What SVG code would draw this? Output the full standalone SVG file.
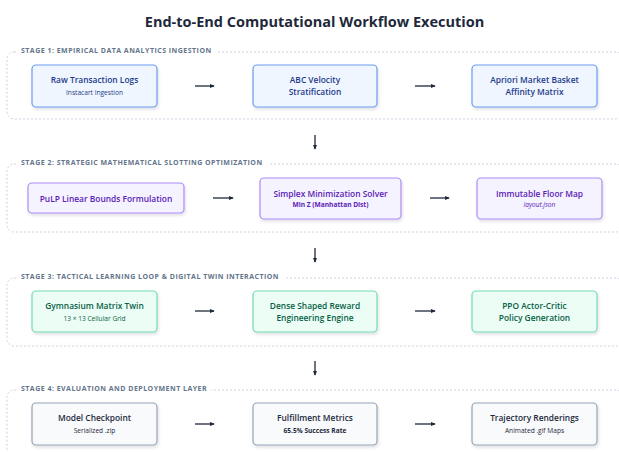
<svg xmlns="http://www.w3.org/2000/svg" width="619" height="452" viewBox="0 0 619 452">
  <defs>
    <filter id="shadow" x="-10%" y="-20%" width="130%" height="160%">
      <feDropShadow dx="1" dy="2" stdDeviation="1.5" flood-color="#0f172a" flood-opacity="0.13"/>
    </filter>
    <marker id="head" viewBox="0 0 6 6" refX="5" refY="3" markerWidth="5" markerHeight="5" markerUnits="userSpaceOnUse" orient="auto">
      <path d="M0,0.5 L6,3 L0,5.5 Z" fill="#1e293b"/>
    </marker>
    <style>
      text { font-family: "Open Sans", "Noto Sans", "DejaVu Sans", sans-serif; }
      .title { font-size: 14.5px; font-weight: 700; fill: #1e293b; }
      .stage { fill: #ffffff; stroke: #cbd5e1; stroke-width: 1; stroke-dasharray: 2 2; }
      .stage-label { font-size: 7px; font-weight: 700; fill: #64748b; letter-spacing: 0.48px; }
      .label-bg { fill: #ffffff; }
      .node rect { stroke-width: 1.2; filter: url(#shadow); }
      .main { font-size: 8.4px; font-weight: 600; text-anchor: middle; }
      .sub { font-size: 6.6px; font-weight: 400; text-anchor: middle; }
      .strong { font-weight: 700; }
      .em { font-style: italic; }
      .s1 rect { fill: #eff6ff; stroke: #6b9bf2; }
      .s1 text { fill: #1e3a8a; }
      .s2 rect { fill: #f5f3ff; stroke: #ad8cf7; }
      .s2 text { fill: #5b21b6; }
      .s3 rect { fill: #ecfdf5; stroke: #72dcb0; }
      .s3 text { fill: #065f46; }
      .s4 rect { fill: #f8fafc; stroke: #94a3b8; }
      .s4 text { fill: #1e293b; }
      .edge { stroke: #1e293b; stroke-width: 1.3; fill: none; marker-end: url(#head); }
    </style>
  </defs>

  <rect width="619" height="452" fill="#ffffff"/>

  <text class="title" x="314.5" y="27" text-anchor="middle">End-to-End Computational Workflow Execution</text>

  <!-- stage frames -->
  <g id="stage-frames">
    <rect class="stage" x="7" y="52" width="616" height="67" rx="7"/>
    <rect class="label-bg" x="17" y="45" width="201" height="10"/>
    <text class="stage-label" x="21" y="52.5">STAGE 1: EMPIRICAL DATA ANALYTICS INGESTION</text>

    <rect class="stage" x="7" y="164" width="616" height="68" rx="7"/>
    <rect class="label-bg" x="17" y="157" width="253" height="10"/>
    <text class="stage-label" x="21" y="164.5">STAGE 2: STRATEGIC MATHEMATICAL SLOTTING OPTIMIZATION</text>

    <rect class="stage" x="7" y="278" width="616" height="68" rx="7"/>
    <rect class="label-bg" x="17" y="271" width="269" height="10"/>
    <text class="stage-label" x="21" y="278.5">STAGE 3: TACTICAL LEARNING LOOP &amp; DIGITAL TWIN INTERACTION</text>

    <rect class="stage" x="7" y="390" width="616" height="70" rx="7"/>
    <rect class="label-bg" x="17" y="383" width="194" height="10"/>
    <text class="stage-label" x="21" y="390.5">STAGE 4: EVALUATION AND DEPLOYMENT LAYER</text>
  </g>

  <!-- stage 1 -->
  <g id="raw-logs" class="node s1">
    <rect x="32" y="65" width="125" height="42" rx="4"/>
    <text class="main" x="94.5" y="83">Raw Transaction Logs</text>
    <text class="sub" x="94.5" y="95">Instacart Ingestion</text>
  </g>
  <g id="abc-velocity" class="node s1">
    <rect x="253" y="65" width="124" height="42" rx="4"/>
    <text class="main" x="315" y="83">ABC Velocity</text>
    <text class="main" x="315" y="94.5">Stratification</text>
  </g>
  <g id="apriori" class="node s1">
    <rect x="472" y="65" width="125" height="42" rx="4"/>
    <text class="main" x="534.5" y="83">Apriori Market Basket</text>
    <text class="main" x="534.5" y="94.5">Affinity Matrix</text>
  </g>

  <!-- stage 2 -->
  <g id="pulp" class="node s2">
    <rect x="28" y="183" width="156" height="30" rx="4"/>
    <text class="main" x="106" y="201.5">PuLP Linear Bounds Formulation</text>
  </g>
  <g id="simplex" class="node s2">
    <rect x="260" y="178" width="141" height="41" rx="4"/>
    <text class="main" x="330.5" y="196.5">Simplex Minimization Solver</text>
    <text class="sub strong" x="330.5" y="206.5">Min Z (Manhattan Dist)</text>
  </g>
  <g id="floor-map" class="node s2">
    <rect x="477" y="178" width="125" height="41" rx="4"/>
    <text class="main" x="539.5" y="196.5">Immutable Floor Map</text>
    <text class="sub em" x="539.5" y="207">layout.json</text>
  </g>

  <!-- stage 3 -->
  <g id="gym-twin" class="node s3">
    <rect x="32" y="291" width="125" height="41" rx="4"/>
    <text class="main" x="94.5" y="308.5">Gymnasium Matrix Twin</text>
    <text class="sub" x="94.5" y="320.5">13 × 13 Cellular Grid</text>
  </g>
  <g id="reward-engine" class="node s3">
    <rect x="253" y="291" width="124" height="41" rx="4"/>
    <text class="main" x="315" y="308.5">Dense Shaped Reward</text>
    <text class="main" x="315" y="320.5">Engineering Engine</text>
  </g>
  <g id="ppo-policy" class="node s3">
    <rect x="472" y="291" width="125" height="41" rx="4"/>
    <text class="main" x="534.5" y="308.5">PPO Actor-Critic</text>
    <text class="main" x="534.5" y="320.5">Policy Generation</text>
  </g>

  <!-- stage 4 -->
  <g id="checkpoint" class="node s4">
    <rect x="32" y="403" width="125" height="42" rx="4"/>
    <text class="main" x="94.5" y="421">Model Checkpoint</text>
    <text class="sub" x="94.5" y="433">Serialized .zip</text>
  </g>
  <g id="metrics" class="node s4">
    <rect x="253" y="403" width="124" height="42" rx="4"/>
    <text class="main" x="315" y="421">Fulfillment Metrics</text>
    <text class="sub strong" x="315" y="433">65.5% Success Rate</text>
  </g>
  <g id="renderings" class="node s4">
    <rect x="472" y="403" width="125" height="42" rx="4"/>
    <text class="main" x="534.5" y="421">Trajectory Renderings</text>
    <text class="sub" x="534.5" y="433">Animated .gif Maps</text>
  </g>

  <!-- connectors -->
  <g id="connectors">
    <path class="edge" d="M195,86 H214"/>
    <path class="edge" d="M415,86 H435"/>
    <path class="edge" d="M213,198 H233"/>
    <path class="edge" d="M430,198 H449"/>
    <path class="edge" d="M195,311 H214"/>
    <path class="edge" d="M415,311 H435"/>
    <path class="edge" d="M195,424 H214"/>
    <path class="edge" d="M415,424 H435"/>
    <path class="edge" d="M315,135 V149"/>
    <path class="edge" d="M315,248 V262"/>
    <path class="edge" d="M315,361 V375"/>
  </g>
</svg>
